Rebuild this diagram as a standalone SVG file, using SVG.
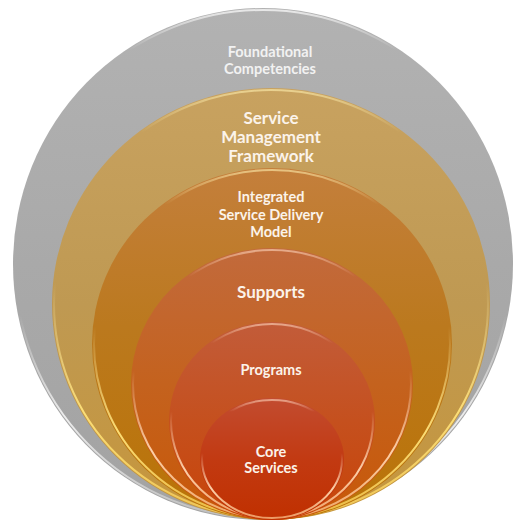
<svg xmlns="http://www.w3.org/2000/svg" width="520" height="523" viewBox="0 0 520 523">
  <defs>
    <linearGradient id="gGray" x1="0" y1="0" x2="0" y2="1">
      <stop offset="0" stop-color="#b2b2b2"/>
      <stop offset="0.5" stop-color="#a9a9a9"/>
      <stop offset="1" stop-color="#a3a3a3"/>
    </linearGradient>
    <linearGradient id="gGold" x1="0" y1="0" x2="0" y2="1">
      <stop offset="0" stop-color="#c8a260"/>
      <stop offset="0.5" stop-color="#bf9952"/>
      <stop offset="1" stop-color="#c6963c"/>
    </linearGradient>
    <linearGradient id="gIsd" x1="0" y1="0" x2="0" y2="1">
      <stop offset="0" stop-color="#c47f3c"/>
      <stop offset="0.45" stop-color="#bb791e"/>
      <stop offset="1" stop-color="#ba7306"/>
    </linearGradient>
    <linearGradient id="gSup" x1="0" y1="0" x2="0" y2="1">
      <stop offset="0" stop-color="#c26a3c"/>
      <stop offset="0.5" stop-color="#c4621e"/>
      <stop offset="1" stop-color="#c85808"/>
    </linearGradient>
    <linearGradient id="gPrg" x1="0" y1="0" x2="0" y2="1">
      <stop offset="0" stop-color="#c25c3a"/>
      <stop offset="0.5" stop-color="#c5501e"/>
      <stop offset="1" stop-color="#c84408"/>
    </linearGradient>
    <linearGradient id="gCore" x1="0" y1="0" x2="0" y2="1">
      <stop offset="0" stop-color="#c24c30"/>
      <stop offset="0.5" stop-color="#c23a12"/>
      <stop offset="1" stop-color="#c03000"/>
    </linearGradient>
    <linearGradient id="rimGray" x1="0" y1="0" x2="0" y2="1">
      <stop offset="0" stop-color="#ffffff" stop-opacity="0.7"/>
      <stop offset="0.08" stop-color="#ffffff" stop-opacity="0"/>
      <stop offset="0.6" stop-color="#ffffff" stop-opacity="0"/>
      <stop offset="0.8" stop-color="#ffffff" stop-opacity="0.8"/>
      <stop offset="1" stop-color="#ffffff" stop-opacity="0.3"/>
    </linearGradient>
    <linearGradient id="rimYel" x1="0" y1="0" x2="0" y2="1">
      <stop offset="0" stop-color="#fff0b0" stop-opacity="0.6"/>
      <stop offset="0.1" stop-color="#fff0b0" stop-opacity="0"/>
      <stop offset="0.45" stop-color="#fff0b0" stop-opacity="0"/>
      <stop offset="0.75" stop-color="#ffe27a" stop-opacity="0.95"/>
      <stop offset="1" stop-color="#ffd860" stop-opacity="0.7"/>
    </linearGradient>
    <linearGradient id="rimPink" x1="0" y1="0" x2="0" y2="1">
      <stop offset="0" stop-color="#ffd8c0" stop-opacity="0.6"/>
      <stop offset="0.1" stop-color="#ffd8c0" stop-opacity="0"/>
      <stop offset="0.45" stop-color="#ffd8c0" stop-opacity="0"/>
      <stop offset="0.75" stop-color="#ffd6b0" stop-opacity="0.95"/>
      <stop offset="1" stop-color="#ffc890" stop-opacity="0.7"/>
    </linearGradient>
  </defs>
  <style>
    .lbl { font-family: Lato, "Liberation Sans", sans-serif; font-weight: bold; text-anchor: middle; fill: #fbf3ea; }
    .lblG { fill: #f2f2f2; }
    .rim { fill: none; stroke-width: 2; }
  </style>
  <rect width="520" height="523" fill="#ffffff"/>
  <g id="foundational">
    <ellipse cx="263" cy="264" rx="250" ry="256" fill="url(#gGray)"/>
    <ellipse cx="263" cy="264" rx="248" ry="254" class="rim" stroke="url(#rimGray)"/>
    <text class="lbl lblG" x="270" y="57" font-size="14.5">Foundational</text>
    <text class="lbl lblG" x="270" y="74" font-size="14.5">Competencies</text>
  </g>
  <g id="smf">
    <ellipse cx="271" cy="304" rx="219" ry="216" fill="url(#gGold)"/>
    <ellipse cx="271" cy="304" rx="217" ry="214" class="rim" stroke="url(#rimYel)"/>
    <text class="lbl" x="271" y="124" font-size="17">Service</text>
    <text class="lbl" x="271" y="143" font-size="17">Management</text>
    <text class="lbl" x="271" y="162" font-size="17">Framework</text>
  </g>
  <g id="isd">
    <ellipse cx="272" cy="344" rx="180" ry="176" fill="url(#gIsd)"/>
    <ellipse cx="272" cy="344" rx="178" ry="174" class="rim" stroke="url(#rimYel)"/>
    <text class="lbl" x="271" y="202" font-size="14.5">Integrated</text>
    <text class="lbl" x="271" y="220" font-size="14.5">Service Delivery</text>
    <text class="lbl" x="271" y="237" font-size="14.5">Model</text>
  </g>
  <g id="supports">
    <ellipse cx="272" cy="384" rx="141" ry="136" fill="url(#gSup)"/>
    <ellipse cx="272" cy="384" rx="139" ry="134" class="rim" stroke="url(#rimPink)"/>
    <text class="lbl" x="271" y="298" font-size="17">Supports</text>
  </g>
  <g id="programs">
    <ellipse cx="272" cy="421" rx="103" ry="99" fill="url(#gPrg)"/>
    <ellipse cx="272" cy="421" rx="101" ry="97" class="rim" stroke="url(#rimPink)"/>
    <text class="lbl" x="271" y="375" font-size="14.5">Programs</text>
  </g>
  <g id="core">
    <ellipse cx="272" cy="459" rx="72" ry="61" fill="url(#gCore)"/>
    <ellipse cx="272" cy="459" rx="70" ry="59" class="rim" stroke="url(#rimPink)"/>
    <text class="lbl" x="271" y="457" font-size="14.5">Core</text>
    <text class="lbl" x="271" y="473" font-size="14.5">Services</text>
  </g>
</svg>
